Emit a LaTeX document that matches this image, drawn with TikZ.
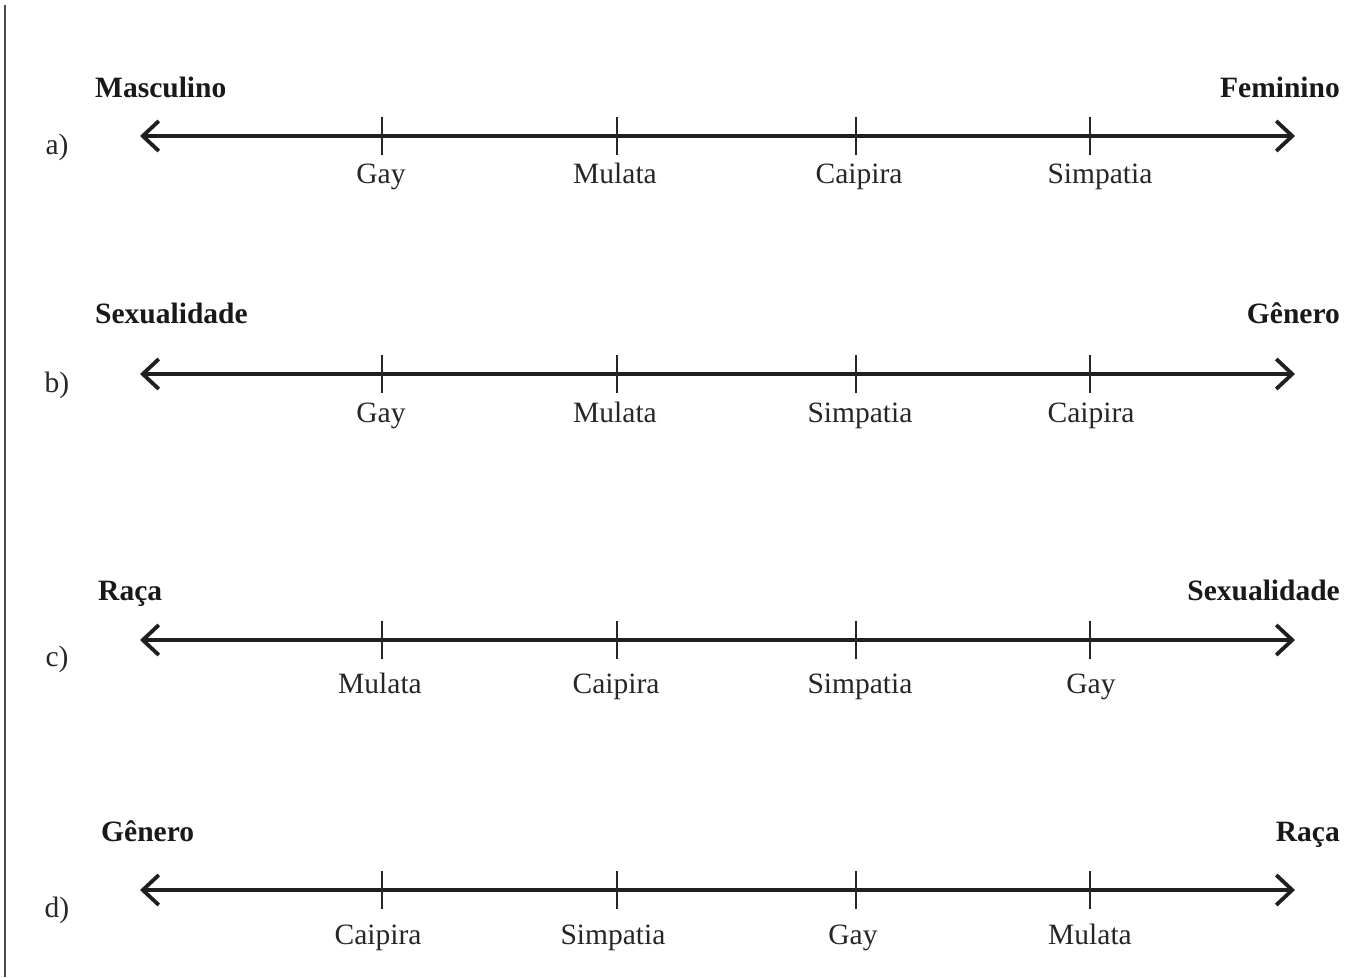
\documentclass[tikz,border=0pt]{standalone}
\usepackage{fontspec}
\setmainfont{Liberation Serif}
\usetikzlibrary{arrows.meta}
\begin{document}
\begin{tikzpicture}[x=1pt,y=-1pt,
  axis/.style={line width=3.8pt, {Straight Barb[length=16pt,width=30pt,line width=3.8pt]}-{Straight Barb[length=16pt,width=30pt,line width=3.8pt]}, color=black!88},
  tick/.style={line width=2.4pt, color=black!85},
  lbl/.style={font=\fontsize{29.5}{32}\selectfont, text=black!85, inner sep=0pt},
  ttl/.style={font=\fontsize{29.5}{32}\selectfont\bfseries, text=black!90, inner sep=0pt},
  row/.style={font=\fontsize{29.5}{32}\selectfont, text=black!85, inner sep=0pt}]
\useasboundingbox[fill=white] (0,0) rectangle (1348,977);
\draw[line width=1.8pt, black!70] (5,5) -- (5,977);
% rows: axis y, label y, title y, row-letter y
\foreach \r/\ay/\ly/\ty/\rl/\lt/\rt/\la/\lb/\lc/\ld/\tl in {
  a/136/174/88/147/Masculino/Feminino/Gay/Mulata/Caipira/Simpatia/95,
  b/374/413/314/385/Sexualidade/G\^enero/Gay/Mulata/Simpatia/Caipira/95,
  c/640/684/591/659/Ra\c{c}a/Sexualidade/Mulata/Caipira/Simpatia/Gay/98,
  d/890/935/832/910/G\^enero/Ra\c{c}a/Caipira/Simpatia/Gay/Mulata/101}{
  \coordinate (\r L) at (140,\ay);
  \coordinate (\r R) at (1295,\ay);
  \draw[axis] (\r L) -- (\r R);
  \foreach \x/\n in {382/1,617/2,856/3,1090/4}{
    \coordinate (\r t\n a) at (\x,\ay-19);
    \coordinate (\r t\n b) at (\x,\ay+19);
    \draw[tick] (\r t\n a) -- (\r t\n b);
  }
  \node[row] (\r row) at (57,\rl) {\r)};
  \node[ttl, anchor=base west] (\r lt) at (\tl,\ty+9) {\lt};
  \node[ttl, anchor=base east] (\r rt) at (1340,\ty+9) {\rt};
}
% tick labels
\foreach \r/\y/\xa/\ta/\xb/\tb/\xc/\tc/\xd/\td in {
  a/174/381/Gay/615/Mulata/859/Caipira/1100/Simpatia,
  b/413/381/Gay/615/Mulata/860/Simpatia/1091/Caipira,
  c/684/380/Mulata/616/Caipira/860/Simpatia/1091/Gay,
  d/935/378/Caipira/613/Simpatia/853/Gay/1090/Mulata}{
  \node[lbl, anchor=base] (\r l1) at (\xa,\y+9) {\ta};
  \node[lbl, anchor=base] (\r l2) at (\xb,\y+9) {\tb};
  \node[lbl, anchor=base] (\r l3) at (\xc,\y+9) {\tc};
  \node[lbl, anchor=base] (\r l4) at (\xd,\y+9) {\td};
}
\end{tikzpicture}
\end{document}
